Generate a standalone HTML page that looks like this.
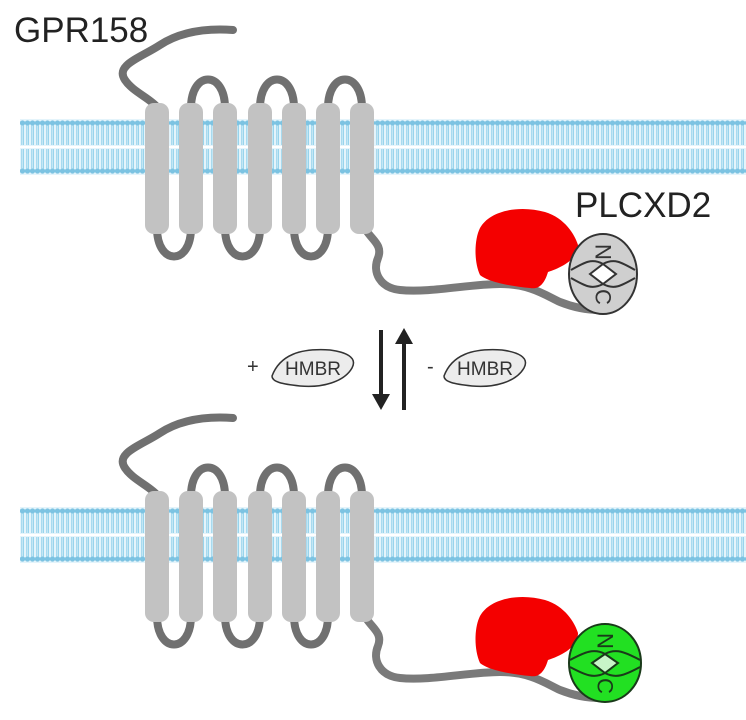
<!DOCTYPE html>
<html><head><meta charset="utf-8"><style>
html,body{margin:0;padding:0;background:#fff;width:746px;height:720px;overflow:hidden}
svg{display:block}
</style></head><body>
<svg width="746" height="720" viewBox="0 0 746 720" xmlns="http://www.w3.org/2000/svg" font-family="Liberation Sans, Arial, sans-serif">
<defs>
<pattern id="lip" x="0" y="119" width="5" height="56" patternUnits="userSpaceOnUse">
<rect x="0" y="0" width="5" height="56" fill="#e4f4fb"/>
<circle cx="2.5" cy="4" r="2.6" fill="#7cc3e2"/>
<circle cx="2.5" cy="52" r="2.6" fill="#7cc3e2"/>
<line x1="1.8" y1="6" x2="1.8" y2="26" stroke="#8fd0ea" stroke-width="1"/>
<line x1="3.4" y1="6" x2="3.4" y2="26" stroke="#8fd0ea" stroke-width="1"/>
<line x1="1.8" y1="30" x2="1.8" y2="50" stroke="#8fd0ea" stroke-width="1"/>
<line x1="3.4" y1="30" x2="3.4" y2="50" stroke="#8fd0ea" stroke-width="1"/>
</pattern>
<g id="receptor">
<path d="M233,30 C205,28 180,32 160,45 C140,58 115,65 125,80 C133,92 150,98 158,108" fill="none" stroke="#707070" stroke-width="8" stroke-linecap="round"/>
<path d="M191,108 C191,70 225,70 225,108" fill="none" stroke="#707070" stroke-width="8"/>
<path d="M260,108 C260,70 294,70 294,108" fill="none" stroke="#707070" stroke-width="8"/>
<path d="M328,108 C328,70 362,70 362,108" fill="none" stroke="#707070" stroke-width="8"/>
<path d="M157,228 C157,266 191,266 191,228" fill="none" stroke="#707070" stroke-width="8"/>
<path d="M225,228 C225,266 260,266 260,228" fill="none" stroke="#707070" stroke-width="8"/>
<path d="M294,228 C294,266 328,266 328,228" fill="none" stroke="#707070" stroke-width="8"/>
<path d="M366,230 C372,240 383,245 378,258 C372,272 380,288 400,290 C430,293 470,284 500,284 C530,284 545,295 560,302 C575,308 590,310 600,310" fill="none" stroke="#7a7a7a" stroke-width="8" stroke-linecap="round"/>
</g>
<g id="rods" fill="#c2c2c2">
<rect x="145" y="103" width="24" height="131" rx="9"/>
<rect x="179" y="103" width="24" height="131" rx="9"/>
<rect x="213" y="103" width="24" height="131" rx="9"/>
<rect x="248" y="103" width="24" height="131" rx="9"/>
<rect x="282" y="103" width="24" height="131" rx="9"/>
<rect x="316" y="103" width="24" height="131" rx="9"/>
<rect x="350" y="103" width="24" height="131" rx="9"/>
</g>
<path id="red" d="M480,228 C490,210 520,205 545,212 C565,218 575,235 578,245 C578,260 560,268 548,272 C545,282 540,290 530,288 C510,286 488,282 480,275 C474,262 474,240 480,228 Z" fill="#f40000"/>
</defs>

<rect x="20" y="119" width="726" height="56" fill="url(#lip)"/>
<line x1="20" y1="147" x2="746" y2="147" stroke="#fff" stroke-width="2"/>
<use href="#receptor"/>
<use href="#rods"/>
<use href="#red"/>
<g stroke="#333" stroke-width="2" fill="#cfcfcf">
<ellipse cx="603" cy="274" rx="34" ry="40"/>
<path d="M571,270 C585,262 592,258 603,264 C614,258 621,262 635,270" fill="none"/>
<path d="M571,278 C585,286 592,290 603,284 C614,290 621,286 635,278" fill="none"/>
<path d="M590,274 L603,264 L616,274 L603,284 Z" fill="#fff"/>
</g>
<text x="603" y="252" font-size="22" text-anchor="middle" dominant-baseline="central" fill="#333" transform="rotate(90 603 252)">N</text>
<text x="603" y="297" font-size="22" text-anchor="middle" dominant-baseline="central" fill="#333" transform="rotate(90 603 297)">C</text>
<text x="14" y="42" font-size="35" fill="#222">GPR158</text>
<text x="575" y="217" font-size="35" fill="#222">PLCXD2</text>

<text x="247" y="373" font-size="20" fill="#333">+</text>
<path d="M272,376 C280,355 300,348 330,350 C345,352 358,357 352,368 C344,382 322,388 300,386 C282,384 272,382 272,376 Z" fill="#ececec" stroke="#333" stroke-width="1.5"/>
<text x="313" y="375" font-size="19" text-anchor="middle" fill="#333">HMBR</text>
<line x1="381" y1="330" x2="381" y2="398" stroke="#222" stroke-width="4"/>
<path d="M372,394 L381,410 L390,394 Z" fill="#222"/>
<line x1="404" y1="342" x2="404" y2="410" stroke="#222" stroke-width="4"/>
<path d="M395,344 L404,328 L413,344 Z" fill="#222"/>
<text x="427" y="373" font-size="20" fill="#333">-</text>
<path d="M444,376 C452,355 472,348 502,350 C517,352 530,357 524,368 C516,382 494,388 472,386 C454,384 444,382 444,376 Z" fill="#ececec" stroke="#333" stroke-width="1.5"/>
<text x="485" y="375" font-size="19" text-anchor="middle" fill="#333">HMBR</text>

<g transform="translate(0,388)">
<rect x="20" y="119" width="726" height="56" fill="url(#lip)"/>
<line x1="20" y1="147" x2="746" y2="147" stroke="#fff" stroke-width="2"/>
<use href="#receptor"/>
<use href="#rods"/>
<use href="#red"/>
<g stroke="#1a3a1a" stroke-width="2" fill="#22e022">
<ellipse cx="605" cy="275" rx="36" ry="39"/>
<path d="M570,272 C585,264 594,260 605,266 C616,260 625,264 640,272" fill="none"/>
<path d="M570,279 C585,287 594,291 605,285 C616,291 625,287 640,279" fill="none"/>
<path d="M592,275 L605,266 L618,275 L605,285 Z" fill="#c8f5c8"/>
</g>
<text x="605" y="253" font-size="22" text-anchor="middle" dominant-baseline="central" fill="#1a3a1a" transform="rotate(90 605 253)">N</text>
<text x="605" y="298" font-size="22" text-anchor="middle" dominant-baseline="central" fill="#1a3a1a" transform="rotate(90 605 298)">C</text>
</g>
</svg>
</body></html>
